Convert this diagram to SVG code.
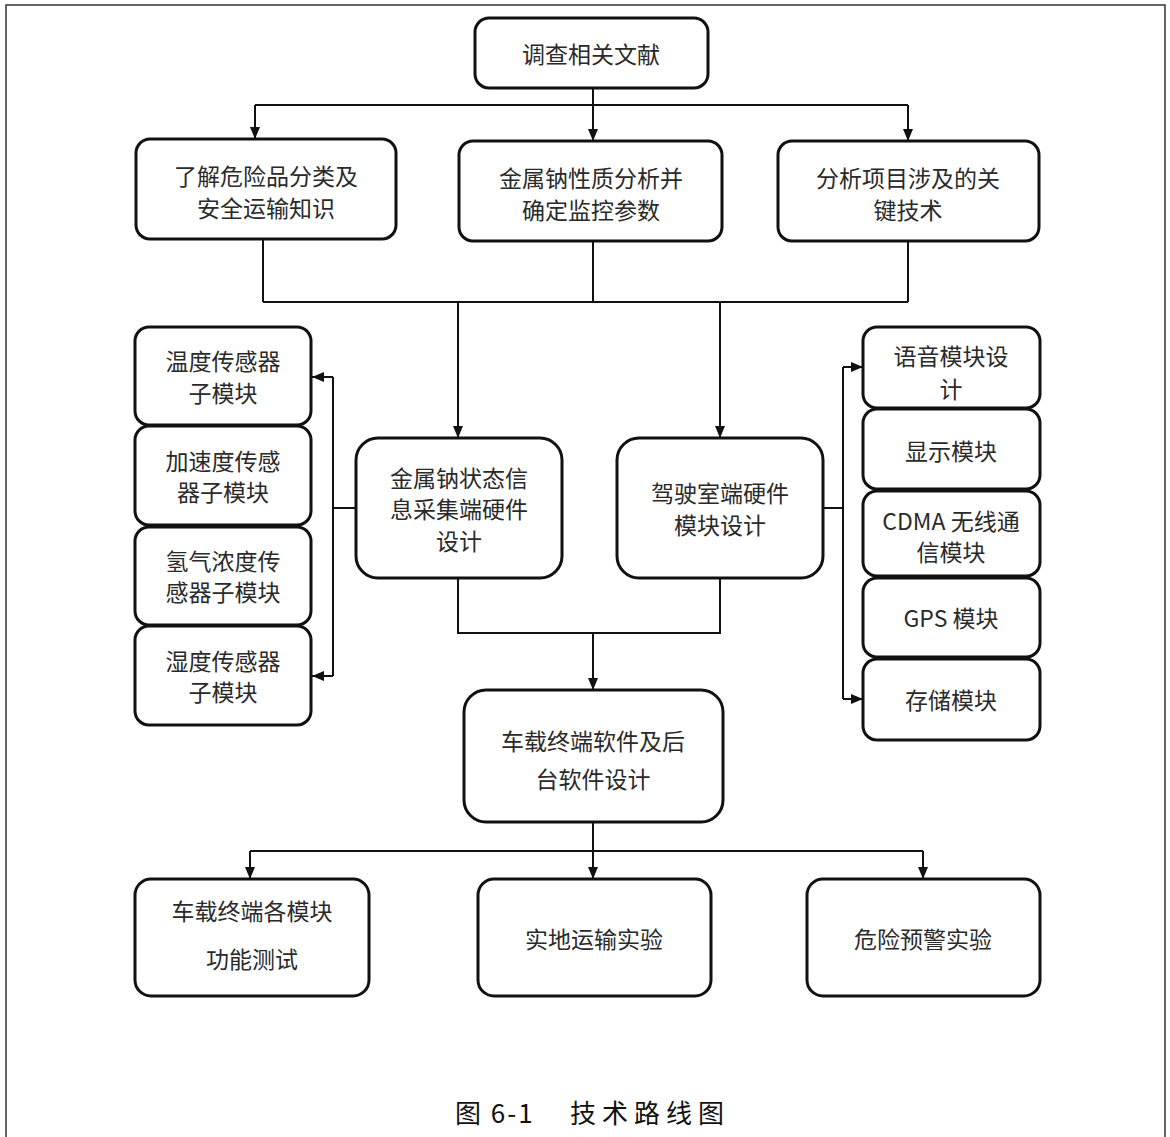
<svg xmlns="http://www.w3.org/2000/svg" width="1170" height="1137" viewBox="0 0 1170 1137">
<defs>
<marker id="ah" viewBox="0 0 12 10" refX="12" refY="5" markerWidth="12" markerHeight="10" markerUnits="userSpaceOnUse" orient="auto">
<path d="M0,0 L12,5 L0,10 Z" fill="#111"/>
</marker>
<style>
.box{fill:#fff;stroke:#111;stroke-width:3}
.t{font-family:"Noto Sans CJK SC","Noto Sans",sans-serif;font-size:23px;fill:#2a2a2a;text-anchor:middle;dominant-baseline:central}
.c{fill:none;stroke:#111;stroke-width:2}
.a{fill:none;stroke:#111;stroke-width:2;marker-end:url(#ah)}
.cap{font-family:"Noto Sans CJK SC","Noto Sans",sans-serif;font-size:26px;fill:#111;dominant-baseline:central}
</style>
</defs>
<rect width="1170" height="1137" fill="#fff"/>
<path d="M6,1137 V5 H1165 V1137" fill="none" stroke="#333" stroke-width="1.5"/>

<g id="connectors">
<path class="c" d="M593,88 V105"/>
<path class="c" d="M255,105 H908"/>
<path class="a" d="M255,105 V139"/>
<path class="a" d="M593,105 V141"/>
<path class="a" d="M908,105 V141"/>
<path class="c" d="M263,239 V302 M593,241 V302 M908,241 V302 M263,302 H908"/>
<path class="a" d="M458,302 V438"/>
<path class="a" d="M720,302 V438"/>
<path class="c" d="M356,508 H333 M333,377 V676"/>
<path class="a" d="M333,377 H312"/>
<path class="a" d="M333,676 H312"/>
<path class="c" d="M823,508 H843 M843,367 V699"/>
<path class="a" d="M843,367 H863"/>
<path class="a" d="M843,699 H863"/>
<path class="c" d="M458,578 V633 H720 V578"/>
<path class="a" d="M593,633 V690"/>
<path class="c" d="M593,822 V851 M250,851 H923"/>
<path class="a" d="M250,851 V879"/>
<path class="a" d="M593,851 V879"/>
<path class="a" d="M923,851 V879"/>
</g>

<g id="n_top"><rect class="box" x="475" y="18" width="233" height="70" rx="14"/><text class="t" x="591" y="53">调查相关文献</text></g>

<g id="n_a1"><rect class="box" x="136" y="139" width="260" height="100" rx="14"/><text class="t" x="266" y="175">了解危险品分类及</text><text class="t" x="266" y="207">安全运输知识</text></g>
<g id="n_a2"><rect class="box" x="459" y="141" width="263" height="100" rx="14"/><text class="t" x="591" y="177">金属钠性质分析并</text><text class="t" x="591" y="209">确定监控参数</text></g>
<g id="n_a3"><rect class="box" x="778" y="141" width="261" height="100" rx="14"/><text class="t" x="908" y="177">分析项目涉及的关</text><text class="t" x="908" y="209">键技术</text></g>

<g id="n_s1"><rect class="box" x="135" y="327" width="176" height="98" rx="14"/><text class="t" x="223" y="360">温度传感器</text><text class="t" x="223" y="392">子模块</text></g>
<g id="n_s2"><rect class="box" x="135" y="426" width="176" height="99" rx="14"/><text class="t" x="223" y="460">加速度传感</text><text class="t" x="223" y="491">器子模块</text></g>
<g id="n_s3"><rect class="box" x="135" y="527" width="176" height="98" rx="14"/><text class="t" x="223" y="560">氢气浓度传</text><text class="t" x="223" y="591">感器子模块</text></g>
<g id="n_s4"><rect class="box" x="135" y="626" width="176" height="99" rx="14"/><text class="t" x="223" y="660">湿度传感器</text><text class="t" x="223" y="691">子模块</text></g>

<g id="n_b1"><rect class="box" x="356" y="438" width="206" height="140" rx="22"/><text class="t" x="459" y="477">金属钠状态信</text><text class="t" x="459" y="508">息采集端硬件</text><text class="t" x="459" y="540">设计</text></g>
<g id="n_b2"><rect class="box" x="617" y="438" width="206" height="140" rx="22"/><text class="t" x="720" y="492">驾驶室端硬件</text><text class="t" x="720" y="524">模块设计</text></g>

<g id="n_m1"><rect class="box" x="863" y="327" width="177" height="81" rx="14"/><text class="t" x="951" y="355">语音模块设</text><text class="t" x="951" y="388">计</text></g>
<g id="n_m2"><rect class="box" x="863" y="409" width="177" height="80" rx="14"/><text class="t" x="951" y="450">显示模块</text></g>
<g id="n_m3"><rect class="box" x="863" y="491" width="177" height="85" rx="14"/><text class="t" x="951" y="520">CDMA 无线通</text><text class="t" x="951" y="551">信模块</text></g>
<g id="n_m4"><rect class="box" x="863" y="578" width="177" height="79" rx="14"/><text class="t" x="951" y="617">GPS 模块</text></g>
<g id="n_m5"><rect class="box" x="863" y="659" width="177" height="81" rx="14"/><text class="t" x="951" y="699">存储模块</text></g>

<g id="n_c"><rect class="box" x="464" y="690" width="259" height="132" rx="22"/><text class="t" x="593" y="740">车载终端软件及后</text><text class="t" x="593" y="778">台软件设计</text></g>

<g id="n_d1"><rect class="box" x="135" y="879" width="234" height="117" rx="16"/><text class="t" x="252" y="910">车载终端各模块</text><text class="t" x="252" y="958">功能测试</text></g>
<g id="n_d2"><rect class="box" x="478" y="879" width="233" height="117" rx="16"/><text class="t" x="594" y="938">实地运输实验</text></g>
<g id="n_d3"><rect class="box" x="807" y="879" width="233" height="117" rx="16"/><text class="t" x="923" y="938">危险预警实验</text></g>

<text class="cap" x="455" y="1111" xml:space="preserve" letter-spacing="2">图 6-1</text>
<text class="cap" x="570" y="1111" letter-spacing="6">技术路线图</text>
</svg>
